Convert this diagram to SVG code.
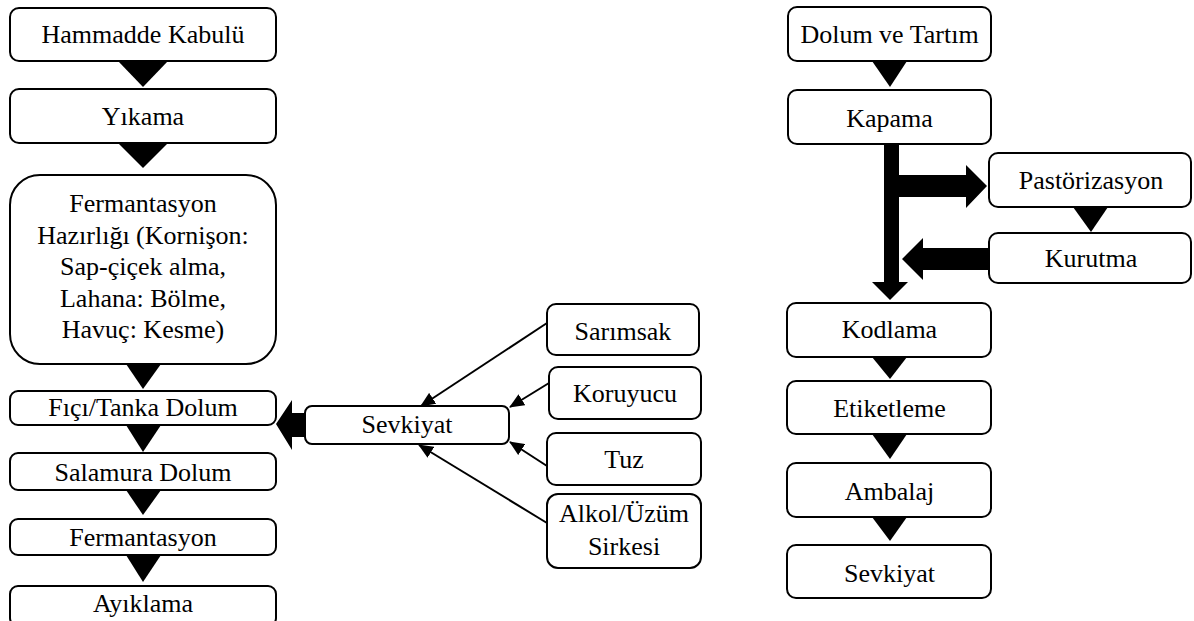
<svg xmlns="http://www.w3.org/2000/svg" width="1194" height="621" viewBox="0 0 1194 621">
<style>
.box{fill:#fff;stroke:#000;stroke-width:2}
.tri{fill:#000}
.thin{stroke:#000;stroke-width:2;fill:none}
.thick{fill:#000}
</style>
<defs>
<marker id="ah" markerUnits="userSpaceOnUse" markerWidth="15" markerHeight="13" refX="14" refY="6.5" orient="auto">
<path d="M0,0 L15,6.5 L0,13 z" fill="#000"/>
</marker>
</defs>
<rect width="1194" height="621" fill="#fff"/>
<g id="connectors">
<polygon class="tri" points="118,61 168,61 143,87"/>
<polygon class="tri" points="118,143 168,143 143,168"/>
<polygon class="tri" points="126,364 161,364 143,389"/>
<polygon class="tri" points="126,425 161,425 143,452"/>
<polygon class="tri" points="126,490 161,490 143,515"/>
<polygon class="tri" points="126,555 161,555 143,582"/>
<polygon class="thick" points="306,413 292,413 292,400 276,424 292,450 292,437 306,437"/>
<line class="thin" marker-end="url(#ah)" x1="547" y1="323" x2="421" y2="406"/>
<line class="thin" marker-end="url(#ah)" x1="549" y1="383" x2="510" y2="407"/>
<line class="thin" marker-end="url(#ah)" x1="547" y1="466" x2="510" y2="442"/>
<line class="thin" marker-end="url(#ah)" x1="547" y1="523" x2="419" y2="445"/>
<polygon class="tri" points="872,61 907,61 890,87"/>
<polygon class="thick" points="884,144 899,144 899,282 908,282 890,300 872,282 884,282"/>
<polygon class="thick" points="899,175 966,175 966,165 987,186 966,208 966,197 899,197"/>
<polygon class="thick" points="990,248 923,248 923,238 902,259 923,280 923,270 990,270"/>
<polygon class="tri" points="1073,207 1108,207 1091,232"/>
<polygon class="tri" points="872,357 907,357 890,379"/>
<polygon class="tri" points="872,434 907,434 890,459"/>
<polygon class="tri" points="872,517 907,517 890,541"/>
</g>
<g id="nodes" font-size="26" text-anchor="middle" fill="#000">
<g id="n-hammadde"><rect class="box" x="10" y="8" width="266" height="53" rx="9"/><text style="font-family:'Liberation Serif',serif" x="143" y="43">Hammadde Kabulü</text></g>
<g id="n-yikama"><rect class="box" x="10" y="89" width="266" height="54" rx="9"/><text style="font-family:'Liberation Serif',serif" x="143" y="125">Yıkama</text></g>
<g id="n-ferm-hazir"><rect class="box" x="10" y="175" width="266" height="189" rx="30"/>
<text style="font-family:'Liberation Serif',serif" x="143" y="212">Fermantasyon</text>
<text style="font-family:'Liberation Serif',serif" x="143" y="243.5">Hazırlığı (Kornişon:</text>
<text style="font-family:'Liberation Serif',serif" x="143" y="275">Sap-çiçek alma,</text>
<text style="font-family:'Liberation Serif',serif" x="143" y="306.5">Lahana: Bölme,</text>
<text style="font-family:'Liberation Serif',serif" x="143" y="338">Havuç: Kesme)</text></g>
<g id="n-fici"><rect class="box" x="10" y="391" width="266" height="34" rx="8"/><text style="font-family:'Liberation Serif',serif" x="143" y="416">Fıçı/Tanka Dolum</text></g>
<g id="n-salamura"><rect class="box" x="10" y="453" width="266" height="37" rx="8"/><text style="font-family:'Liberation Serif',serif" x="143" y="481">Salamura Dolum</text></g>
<g id="n-fermantasyon"><rect class="box" x="10" y="519" width="266" height="36" rx="8"/><text style="font-family:'Liberation Serif',serif" x="143" y="546">Fermantasyon</text></g>
<g id="n-ayiklama"><rect class="box" x="10" y="586" width="266" height="40" rx="8"/><text style="font-family:'Liberation Serif',serif" x="143" y="612">Ayıklama</text></g>
<g id="n-sevkiyat-mid"><rect class="box" x="305" y="406" width="204" height="38" rx="7"/><text style="font-family:'Liberation Serif',serif" x="407" y="433">Sevkiyat</text></g>
<g id="n-sarimsak"><rect class="box" x="547" y="304" width="152" height="51" rx="9"/><text style="font-family:'Liberation Serif',serif" x="623" y="340">Sarımsak</text></g>
<g id="n-koruyucu"><rect class="box" x="549" y="367" width="152" height="52" rx="9"/><text style="font-family:'Liberation Serif',serif" x="625" y="402">Koruyucu</text></g>
<g id="n-tuz"><rect class="box" x="547" y="433" width="154" height="52" rx="9"/><text style="font-family:'Liberation Serif',serif" x="624" y="468">Tuz</text></g>
<g id="n-alkol"><rect class="box" x="547" y="494" width="154" height="74" rx="11"/><text style="font-family:'Liberation Serif',serif" x="624" y="522">Alkol/Üzüm</text><text style="font-family:'Liberation Serif',serif" x="624" y="555">Sirkesi</text></g>
<g id="n-dolum"><rect class="box" x="788" y="7" width="203" height="54" rx="9"/><text style="font-family:'Liberation Serif',serif" x="889.5" y="43">Dolum ve Tartım</text></g>
<g id="n-kapama"><rect class="box" x="788" y="90" width="203" height="54" rx="9"/><text style="font-family:'Liberation Serif',serif" x="889.5" y="127">Kapama</text></g>
<g id="n-pastorizasyon"><rect class="box" x="989" y="153" width="202" height="54" rx="9"/><text style="font-family:'Liberation Serif',serif" x="1091" y="189">Pastörizasyon</text></g>
<g id="n-kurutma"><rect class="box" x="989" y="233" width="202" height="50" rx="9"/><text style="font-family:'Liberation Serif',serif" x="1091" y="267">Kurutma</text></g>
<g id="n-kodlama"><rect class="box" x="787" y="303" width="204" height="54" rx="9"/><text style="font-family:'Liberation Serif',serif" x="889.5" y="338">Kodlama</text></g>
<g id="n-etiketleme"><rect class="box" x="787" y="381" width="204" height="53" rx="9"/><text style="font-family:'Liberation Serif',serif" x="889.5" y="417">Etiketleme</text></g>
<g id="n-ambalaj"><rect class="box" x="787" y="463" width="204" height="54" rx="9"/><text style="font-family:'Liberation Serif',serif" x="889.5" y="500">Ambalaj</text></g>
<g id="n-sevkiyat-right"><rect class="box" x="787" y="545" width="204" height="53" rx="9"/><text style="font-family:'Liberation Serif',serif" x="889.5" y="582">Sevkiyat</text></g>
</g>
</svg>
